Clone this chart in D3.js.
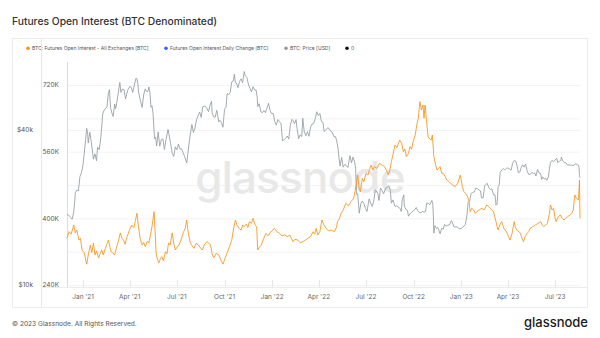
<!DOCTYPE html>
<html><head><meta charset="utf-8">
<script src="https://cdn.jsdelivr.net/npm/d3@7/dist/d3.min.js"></script>
<style>html,body{margin:0;padding:0;background:#fff;}svg{display:block;font-family:Inter,"Noto Sans",sans-serif;}</style>
</head><body><svg id="c" width="600" height="338"></svg>
<script>
const title = "Futures Open Interest (BTC Denominated)";
const legendLabels = ["BTC: Futures Open Interest - All Exchanges [BTC]", "Futures Open Interest Daily Change (BTC)", "BTC: Price [USD]", "0"];
const legendColors = ["#f7931a", "#2962ff", "#999999", "#111111"];
const oiTicks = [240, 400, 560, 720];
const oiGrid = [240, 320, 400, 480, 560, 640, 720];
const priceTicks = [10000, 40000];
const priceTickLabels = ["$10k", "$40k"];
const xTickDates = ["2021-01-01","2021-04-01","2021-07-01","2021-10-01","2022-01-01","2022-04-01","2022-07-01","2022-10-01","2023-01-01","2023-04-01","2023-07-01"];
const xTickLabels = ["Jan '21","Apr '21","Jul '21","Oct '21","Jan '22","Apr '22","Jul '22","Oct '22","Jan '23","Apr '23","Jul '23"];

// Futures open interest (thousand BTC)
const oiDates = ["2020-12-01","2020-12-05","2020-12-09","2020-12-14","2020-12-17","2020-12-20","2020-12-24","2020-12-27","2020-12-30","2021-01-03","2021-01-08","2021-01-11","2021-01-15","2021-01-18","2021-01-21","2021-01-24","2021-01-27","2021-01-31","2021-02-03","2021-02-06","2021-02-09","2021-02-13","2021-02-16","2021-02-19","2021-02-22","2021-02-24","2021-02-27","2021-03-03","2021-03-07","2021-03-10","2021-03-14","2021-03-17","2021-03-20","2021-03-23","2021-03-27","2021-03-31","2021-04-05","2021-04-09","2021-04-12","2021-04-15","2021-04-18","2021-04-21","2021-04-25","2021-04-28","2021-05-01","2021-05-05","2021-05-08","2021-05-11","2021-05-14","2021-05-18","2021-05-20","2021-05-22","2021-05-24","2021-05-27","2021-05-30","2021-06-02","2021-06-05","2021-06-09","2021-06-12","2021-06-15","2021-06-18","2021-06-22","2021-06-25","2021-06-28","2021-07-01","2021-07-05","2021-07-09","2021-07-14","2021-07-17","2021-07-20","2021-07-23","2021-07-27","2021-07-30","2021-08-03","2021-08-07","2021-08-12","2021-08-15","2021-08-19","2021-08-23","2021-08-28","2021-09-01","2021-09-04","2021-09-07","2021-09-10","2021-09-15","2021-09-20","2021-09-24","2021-09-28","2021-10-02","2021-10-06","2021-10-10","2021-10-15","2021-10-18","2021-10-22","2021-10-25","2021-10-28","2021-11-02","2021-11-05","2021-11-08","2021-11-12","2021-11-15","2021-11-18","2021-11-22","2021-11-25","2021-11-29","2021-12-02","2021-12-04","2021-12-07","2021-12-11","2021-12-15","2021-12-20","2021-12-24","2021-12-28","2022-01-01","2022-01-05","2022-01-10","2022-01-15","2022-01-20","2022-01-25","2022-01-30","2022-02-04","2022-02-10","2022-02-14","2022-02-19","2022-02-24","2022-03-01","2022-03-06","2022-03-11","2022-03-16","2022-03-21","2022-03-24","2022-03-27","2022-03-30","2022-04-03","2022-04-07","2022-04-11","2022-04-15","2022-04-20","2022-04-25","2022-05-01","2022-05-05","2022-05-07","2022-05-11","2022-05-14","2022-05-18","2022-05-23","2022-05-28","2022-06-02","2022-06-06","2022-06-08","2022-06-12","2022-06-15","2022-06-18","2022-06-20","2022-06-24","2022-06-27","2022-07-01","2022-07-05","2022-07-08","2022-07-11","2022-07-14","2022-07-17","2022-07-22","2022-07-27","2022-08-01","2022-08-06","2022-08-10","2022-08-13","2022-08-16","2022-08-19","2022-08-22","2022-08-26","2022-08-30","2022-09-04","2022-09-08","2022-09-11","2022-09-14","2022-09-17","2022-09-21","2022-09-24","2022-09-27","2022-09-30","2022-10-04","2022-10-07","2022-10-10","2022-10-13","2022-10-16","2022-10-19","2022-10-21","2022-10-23","2022-10-26","2022-10-29","2022-11-01","2022-11-04","2022-11-06","2022-11-09","2022-11-12","2022-11-15","2022-11-18","2022-11-21","2022-11-24","2022-11-27","2022-12-01","2022-12-04","2022-12-08","2022-12-11","2022-12-15","2022-12-20","2022-12-25","2022-12-30","2023-01-03","2023-01-06","2023-01-09","2023-01-13","2023-01-16","2023-01-18","2023-01-21","2023-01-25","2023-01-28","2023-01-31","2023-02-04","2023-02-10","2023-02-14","2023-02-19","2023-02-23","2023-02-26","2023-03-01","2023-03-04","2023-03-09","2023-03-11","2023-03-13","2023-03-16","2023-03-20","2023-03-24","2023-03-29","2023-04-02","2023-04-05","2023-04-09","2023-04-13","2023-04-15","2023-04-18","2023-04-22","2023-04-25","2023-04-28","2023-05-01","2023-05-04","2023-05-08","2023-05-11","2023-05-14","2023-05-19","2023-05-24","2023-05-29","2023-06-03","2023-06-06","2023-06-09","2023-06-13","2023-06-16","2023-06-20","2023-06-22","2023-06-25","2023-06-28","2023-07-01","2023-07-03","2023-07-07","2023-07-11","2023-07-15","2023-07-18","2023-07-21","2023-07-25","2023-07-30","2023-08-02","2023-08-05","2023-08-08","2023-08-11","2023-08-15","2023-08-17","2023-08-18"];
const oiValues = [352,368,362,384,365,372,348,352,324,318,290,312,336,318,341,312,322,305,315,324,312,328,338,348,330,320,318,312,332,345,365,352,348,338,356,370,384,378,395,412,380,352,336,342,332,345,341,360,380,416,370,317,305,293,302,308,298,320,315,341,336,365,340,324,330,336,348,368,375,396,365,341,335,328,340,336,330,324,336,344,340,336,315,305,316,312,300,290,304,317,330,348,372,396,384,377,372,384,380,386,378,392,388,400,384,380,324,330,336,350,364,358,366,370,376,368,364,358,360,356,360,344,350,348,342,344,348,352,356,368,362,376,360,368,396,384,376,370,372,368,378,392,400,412,420,436,430,440,446,452,480,504,470,464,496,488,508,504,518,528,516,524,520,532,528,524,514,504,516,536,552,576,570,588,580,560,566,548,556,572,566,584,600,624,640,680,660,672,640,672,630,596,590,588,600,548,530,516,520,524,508,508,500,492,488,484,480,476,484,504,476,464,460,452,440,416,424,420,412,416,420,424,420,432,428,424,420,416,392,380,372,384,392,376,368,356,348,364,392,380,372,368,364,352,344,356,364,368,376,380,384,388,392,384,380,384,388,412,432,420,424,400,392,404,408,400,396,400,404,408,412,420,456,448,444,492,400];

// BTC price (USD)
const priceDates = ["2020-12-01","2020-12-04","2020-12-08","2020-12-11","2020-12-14","2020-12-16","2020-12-17","2020-12-20","2020-12-23","2020-12-26","2020-12-29","2021-01-01","2021-01-03","2021-01-06","2021-01-08","2021-01-10","2021-01-11","2021-01-14","2021-01-17","2021-01-21","2021-01-24","2021-01-27","2021-01-29","2021-02-01","2021-02-04","2021-02-08","2021-02-11","2021-02-14","2021-02-16","2021-02-19","2021-02-21","2021-02-23","2021-02-26","2021-02-28","2021-03-03","2021-03-05","2021-03-08","2021-03-10","2021-03-13","2021-03-15","2021-03-18","2021-03-21","2021-03-24","2021-03-26","2021-03-29","2021-04-01","2021-04-04","2021-04-07","2021-04-10","2021-04-13","2021-04-15","2021-04-17","2021-04-18","2021-04-22","2021-04-25","2021-04-28","2021-05-01","2021-05-03","2021-05-06","2021-05-08","2021-05-10","2021-05-12","2021-05-14","2021-05-16","2021-05-19","2021-05-21","2021-05-23","2021-05-26","2021-05-29","2021-06-01","2021-06-04","2021-06-07","2021-06-10","2021-06-14","2021-06-16","2021-06-19","2021-06-22","2021-06-25","2021-06-28","2021-07-01","2021-07-04","2021-07-07","2021-07-10","2021-07-13","2021-07-16","2021-07-20","2021-07-22","2021-07-26","2021-07-30","2021-08-02","2021-08-05","2021-08-08","2021-08-11","2021-08-14","2021-08-17","2021-08-20","2021-08-23","2021-08-27","2021-08-31","2021-09-03","2021-09-06","2021-09-07","2021-09-10","2021-09-13","2021-09-16","2021-09-20","2021-09-22","2021-09-25","2021-09-28","2021-10-01","2021-10-04","2021-10-06","2021-10-09","2021-10-12","2021-10-15","2021-10-18","2021-10-20","2021-10-22","2021-10-24","2021-10-27","2021-10-30","2021-11-02","2021-11-05","2021-11-08","2021-11-10","2021-11-13","2021-11-16","2021-11-19","2021-11-22","2021-11-25","2021-11-28","2021-12-01","2021-12-03","2021-12-04","2021-12-07","2021-12-10","2021-12-13","2021-12-16","2021-12-19","2021-12-22","2021-12-25","2021-12-28","2021-12-31","2022-01-03","2022-01-06","2022-01-09","2022-01-12","2022-01-15","2022-01-18","2022-01-21","2022-01-24","2022-01-27","2022-01-30","2022-02-02","2022-02-05","2022-02-08","2022-02-10","2022-02-13","2022-02-16","2022-02-18","2022-02-21","2022-02-24","2022-02-27","2022-03-01","2022-03-04","2022-03-07","2022-03-10","2022-03-13","2022-03-16","2022-03-19","2022-03-22","2022-03-25","2022-03-28","2022-03-31","2022-04-03","2022-04-06","2022-04-09","2022-04-11","2022-04-14","2022-04-18","2022-04-21","2022-04-24","2022-04-27","2022-04-30","2022-05-03","2022-05-05","2022-05-08","2022-05-10","2022-05-12","2022-05-15","2022-05-18","2022-05-21","2022-05-24","2022-05-27","2022-05-31","2022-06-03","2022-06-06","2022-06-09","2022-06-11","2022-06-13","2022-06-15","2022-06-18","2022-06-21","2022-06-24","2022-06-27","2022-06-30","2022-07-03","2022-07-07","2022-07-10","2022-07-13","2022-07-16","2022-07-19","2022-07-21","2022-07-24","2022-07-26","2022-07-29","2022-08-01","2022-08-04","2022-08-08","2022-08-11","2022-08-14","2022-08-17","2022-08-19","2022-08-22","2022-08-26","2022-08-29","2022-09-01","2022-09-05","2022-09-07","2022-09-09","2022-09-12","2022-09-13","2022-09-16","2022-09-19","2022-09-21","2022-09-24","2022-09-27","2022-09-30","2022-10-03","2022-10-06","2022-10-09","2022-10-12","2022-10-15","2022-10-18","2022-10-21","2022-10-24","2022-10-26","2022-10-29","2022-11-01","2022-11-05","2022-11-07","2022-11-08","2022-11-09","2022-11-11","2022-11-14","2022-11-17","2022-11-21","2022-11-24","2022-11-27","2022-11-30","2022-12-03","2022-12-06","2022-12-09","2022-12-13","2022-12-15","2022-12-18","2022-12-21","2022-12-24","2022-12-28","2022-12-31","2023-01-03","2023-01-06","2023-01-09","2023-01-12","2023-01-14","2023-01-17","2023-01-20","2023-01-23","2023-01-26","2023-01-29","2023-02-01","2023-02-04","2023-02-07","2023-02-09","2023-02-12","2023-02-15","2023-02-17","2023-02-20","2023-02-23","2023-02-26","2023-03-01","2023-03-04","2023-03-07","2023-03-09","2023-03-11","2023-03-13","2023-03-15","2023-03-17","2023-03-20","2023-03-23","2023-03-26","2023-03-29","2023-04-01","2023-04-04","2023-04-07","2023-04-10","2023-04-13","2023-04-16","2023-04-19","2023-04-21","2023-04-24","2023-04-26","2023-04-29","2023-05-02","2023-05-05","2023-05-08","2023-05-11","2023-05-14","2023-05-17","2023-05-20","2023-05-23","2023-05-25","2023-05-28","2023-05-31","2023-06-03","2023-06-05","2023-06-07","2023-06-10","2023-06-13","2023-06-15","2023-06-18","2023-06-20","2023-06-22","2023-06-25","2023-06-28","2023-07-01","2023-07-04","2023-07-06","2023-07-09","2023-07-12","2023-07-13","2023-07-16","2023-07-19","2023-07-22","2023-07-25","2023-07-28","2023-07-31","2023-08-03","2023-08-06","2023-08-09","2023-08-12","2023-08-15","2023-08-16","2023-08-17","2023-08-18"];
const priceValues = [18800,18700,18300,18000,19200,21300,22800,23400,23200,26400,27300,29400,32100,36800,40600,38400,35600,39200,35800,30800,32300,30400,34300,33500,36900,46200,47900,48700,49200,55900,57400,48800,46300,45100,50500,48400,52300,56000,61200,56000,57700,57400,52800,55000,57700,59000,58600,56000,59800,63500,63200,60000,56200,51700,49000,54800,57800,56600,56400,58800,55900,49000,49700,46400,37000,37500,34700,39300,34600,36700,36900,33600,36700,40200,38300,35500,32500,31600,34400,33500,35300,33800,33800,32700,31500,29800,32100,37300,42000,39100,40800,43800,45600,47000,44800,49300,49500,49000,47100,50000,51700,46800,44900,44900,47700,43000,43600,42800,41000,48100,49100,55300,54900,56000,61600,62000,65900,61000,60900,58400,61800,63200,61000,67500,64900,64100,60300,58100,56300,58900,57200,57200,53700,49300,50600,47100,46700,47600,46700,48600,50800,47500,46300,46400,43100,41800,43900,43100,42300,36300,36700,37100,37900,36900,41600,44000,43600,42300,43900,40500,37000,38300,37700,44400,39200,38000,39400,37800,41100,42200,42300,44300,47100,45500,46400,43200,42800,39500,39900,40800,40500,39500,39200,37700,37700,36600,34100,31000,29000,31300,28700,29400,29100,28600,31800,29800,31400,30100,28400,22500,22600,19000,20700,21200,20700,19800,19300,21600,20800,20200,21200,23400,23200,22600,21300,23800,23300,22600,23800,23900,24300,23300,20800,21400,20200,20300,20100,19800,19300,21400,22400,20200,19700,19500,18500,18900,19100,19400,19600,20000,19400,19100,19100,19300,19200,19300,20800,20800,20500,21300,20600,18500,15900,17000,16600,16700,15800,16600,16500,17200,16900,17100,17100,17800,17400,16800,16800,16800,16550,16550,16700,16950,17200,18800,20900,21200,22700,22900,23000,23800,23700,23400,23200,21800,21800,24300,24600,24800,23900,23500,23600,22400,22400,20400,20600,24100,24400,27400,28000,28300,28000,28400,28500,28200,27900,29700,30400,30300,28800,27300,27500,28400,29300,28700,29500,27700,26900,26900,27400,27100,27200,26500,28100,27200,27100,25700,26300,25800,25900,25500,26300,28300,29900,30500,30100,30600,31100,29900,30200,30400,31400,30300,29900,29800,29200,29300,29200,29200,29100,29600,29400,29200,28700,26600,26100];

const parse = d3.timeParse("%Y-%m-%d");
const oi = oiDates.map((d, i) => ({date: parse(d), v: oiValues[i]}));
const price = priceDates.map((d, i) => ({date: parse(d), v: priceValues[i]}));

const svg = d3.select("#c");
svg.append("rect").attr("width", 600).attr("height", 338).attr("fill", "#fff");

const plot = {left: 67, right: 580, top: 62, bottom: 285};
const x = d3.scaleTime().domain([parse("2020-12-01"), parse("2023-08-18")]).range([plot.left, plot.right]);
const yOI = d3.scaleLinear().domain([240, 720]).range([285, 85]);
const yP = d3.scaleLog().domain([10000, 40000]).range([285, 130]);

// title
svg.append("text").attr("x", 12).attr("y", 25).attr("font-size", 10.3).attr("font-weight", 500).attr("fill", "#333").text(title);

// frame
svg.append("rect").attr("x", 12.5).attr("y", 38.5).attr("width", 575).attr("height", 269).attr("fill", "none").attr("stroke", "#ececec");

// legend
const legX = [28, 166, 286, 347];
legendLabels.forEach((t, i) => {
  svg.append("circle").attr("cx", legX[i]).attr("cy", 48.3).attr("r", 1.8).attr("fill", legendColors[i]);
  svg.append("text").attr("x", legX[i] + 4).attr("y", 50).attr("font-size", 5).attr("fill", "#555").text(t);
});

// gridlines
const g = svg.append("g");
g.selectAll("line.oi").data(oiGrid).join("line")
  .attr("x1", plot.left).attr("x2", plot.right)
  .attr("y1", d => yOI(d) + 0.5).attr("y2", d => yOI(d) + 0.5)
  .attr("stroke", "#f3f3f3");
g.selectAll("line.pr").data(priceTicks).join("line")
  .attr("x1", plot.left).attr("x2", plot.right)
  .attr("y1", d => yP(d) + 0.5).attr("y2", d => yP(d) + 0.5)
  .attr("stroke", "#f3f3f3");

// watermark
svg.append("text").attr("x", 300).attr("y", 193).attr("text-anchor", "middle")
  .attr("font-size", 44).attr("font-weight", 500).attr("fill", "#e8e8e8").attr("letter-spacing", -0.8).text("glassnode");

// left axis lines
svg.append("line").attr("x1", 41.5).attr("x2", 41.5).attr("y1", 39).attr("y2", 307).attr("stroke", "#e6e6e6");
svg.append("line").attr("x1", 67.5).attr("x2", 67.5).attr("y1", 62).attr("y2", 287).attr("stroke", "#fcd3ad");

// y labels
svg.selectAll("text.oil").data(oiTicks).join("text").attr("x", 59).attr("y", d => yOI(d) + 2.3)
  .attr("text-anchor", "end").attr("font-size", 6.5).attr("fill", "#555").text(d => d + "K");
svg.selectAll("text.pl").data(priceTicks).join("text").attr("x", 33).attr("y", d => yP(d) + 2.3)
  .attr("text-anchor", "end").attr("font-size", 6.5).attr("fill", "#555").text((d, i) => priceTickLabels[i]);

// x axis
svg.append("line").attr("x1", 41).attr("x2", 587).attr("y1", 287.5).attr("y2", 287.5).attr("stroke", "#ececec");
const xt = xTickDates.map(parse);
svg.selectAll("line.xt").data(xt).join("line").attr("x1", d => Math.round(x(d)) + 0.5).attr("x2", d => Math.round(x(d)) + 0.5)
  .attr("y1", 280).attr("y2", 287).attr("stroke", "#e6e6e6");
svg.selectAll("text.xl").data(xt).join("text").attr("x", d => x(d)).attr("y", 299)
  .attr("text-anchor", "middle").attr("font-size", 6.5).attr("fill", "#666").text((d, i) => xTickLabels[i]);

// lines
const lineP = d3.line().x(d => x(d.date)).y(d => yP(d.v));
const lineO = d3.line().x(d => x(d.date)).y(d => yOI(d.v));
svg.append("path").datum(price).attr("d", lineP).attr("fill", "none").attr("stroke", "#929ca1").attr("stroke-width", 0.85);
svg.append("path").datum(oi).attr("d", lineO).attr("fill", "none").attr("stroke", "#f7931a").attr("stroke-width", 0.85);

// footer
svg.append("text").attr("x", 12).attr("y", 326).attr("font-size", 6.6).attr("fill", "#555").text("© 2023 Glassnode. All Rights Reserved.");
svg.append("text").attr("x", 588).attr("y", 327).attr("text-anchor", "end").attr("font-size", 13).attr("font-weight", 500).attr("fill", "#1a1a1a").text("glassnode");
</script></body></html>
